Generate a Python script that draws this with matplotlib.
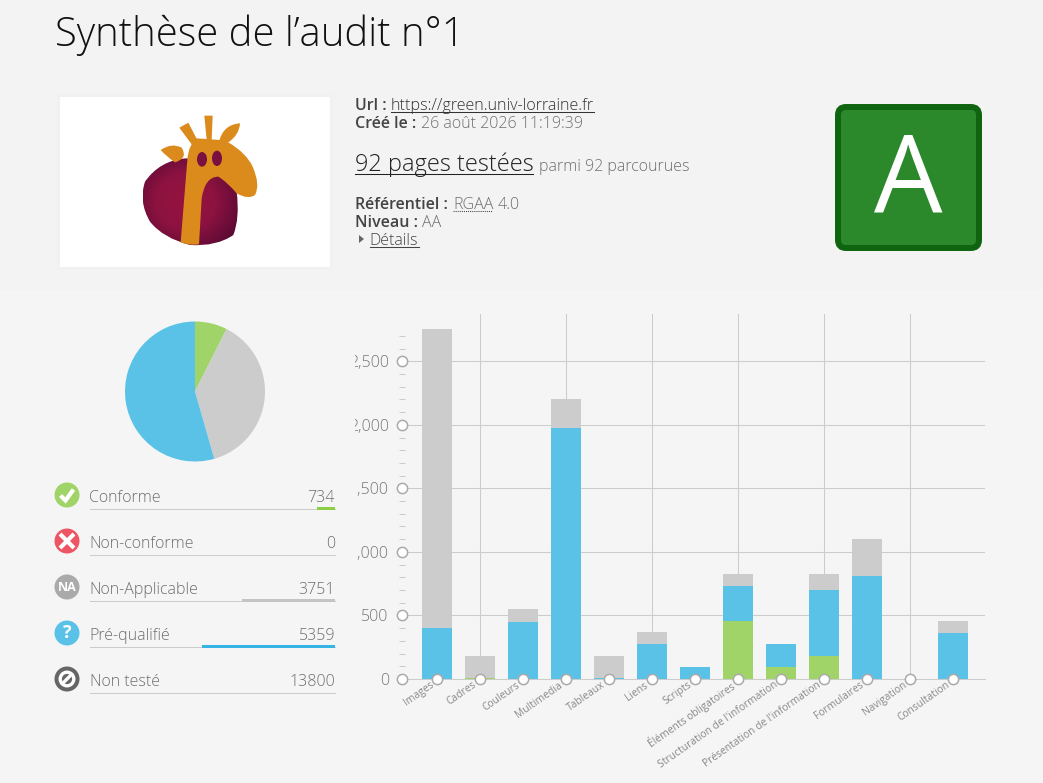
"""
Synthèse de l'audit n°1: accessibility audit summary, pie + stacked bars per theme
"""
import matplotlib
matplotlib.use("Agg")
import matplotlib.pyplot as plt
from matplotlib.patches import Circle, Ellipse, FancyBboxPatch, PathPatch, Polygon, Rectangle
from matplotlib.path import Path
from matplotlib.ticker import FuncFormatter
from matplotlib.transforms import Bbox
import numpy as np

plt.rcParams['font.family'] = ['Open Sans', 'DejaVu Sans']

# Status totals
status_labels = ["Conforme", "Non-conforme", "Non-Applicable", "Pré-qualifié", "Non testé"]
status_values = [734, 0, 3751, 5359, 13800]

# Bars
themes = ["Images", "Cadres", "Couleurs", "Multimedia", "Tableaux", "Liens", "Scripts",
          "Éléments obligatoires", "Structuration de l'information",
          "Présentation de l'information", "Formulaires", "Navigation", "Consultation"]
conforme = [0, 10, 0, 0, 0, 0, 0, 456, 95, 181, 0, 0, 0]
prequalifie = [400, 0, 452, 1978, 10, 275, 95, 276, 180, 519, 811, 0, 362]
non_applicable = [2356, 170, 98, 227, 170, 95, 0, 95, 0, 127, 291, 0, 94]
y_major = [0, 500, 1000, 1500, 2000, 2500]
y_minor = [100, 200, 300, 400, 600, 700, 800, 900, 1100, 1200, 1300, 1400,
           1600, 1700, 1800, 1900, 2100, 2200, 2300, 2400, 2600, 2700]

GREEN = '#a0d468'
BLUE = '#5bc2e7'
GRAY = '#cccccc'
GRID = '#cccccc'
TXT = '#6f6f6f'
DARK = '#222222'
LW = 0.75  # about one pixel

fig = plt.figure(figsize=(10.43, 7.83), dpi=100, facecolor='#f5f5f5')

# Page layer, in pixels
bg = fig.add_axes([0, 0, 1, 1])
bg.set_xlim(0, 1043)
bg.set_ylim(783, 0)
bg.axis('off')
bg.add_patch(Rectangle((0, 0), 1043, 290, fc='#f3f3f3', ec='none'))

bg.text(55, 46, "Synthèse de l’audit n°1", fontsize=28.8, color='#111111', fontweight='light')

# Logo
bg.add_patch(Rectangle((57, 94), 276, 176, fc='#f1f1f1', ec='none'))
bg.add_patch(Rectangle((60, 97), 270, 170, fc='white', ec='none'))


def z(x, y):
    # logo coordinates were read on a 3x crop
    return (50 + x / 3, 85 + y / 3)


def smooth(points):
    verts = [z(*p) for p in points]
    codes = [Path.MOVETO] + [Path.CURVE3] * (len(verts) - 1)
    return Path(verts, codes)


heart = smooth([(410, 220), (330, 225), (285, 290), (265, 350), (300, 410), (340, 460), (420, 480),
                (500, 485), (550, 450), (570, 400), (560, 320), (530, 260), (410, 220)])
heart_patch = PathPatch(heart, fc='none', ec='none')
bg.add_patch(heart_patch)
gx, gy = np.meshgrid(np.linspace(0, 1, 80), np.linspace(0, 1, 80))
gr = np.clip(np.hypot((gx - 0.45) / 0.62, (gy - 0.5) / 0.62), 0, 1)
cm = matplotlib.colors.LinearSegmentedColormap.from_list('heart', ['#95133f', '#8d1240', '#5c0a35'])
im = bg.imshow(gr, extent=(z(278, 0)[0], z(562, 0)[0], z(0, 482)[1], z(0, 215)[1]), cmap=cm,
               aspect='auto', zorder=1)
im.set_clip_path(heart_patch)
bg.set_xlim(0, 1043)
bg.set_ylim(783, 0)

ORANGE = '#db8a1c'
body_verts = [z(*p) for p in [(392, 472), (412, 225), (415, 180), (440, 160), (510, 165), (535, 172),
                              (590, 205), (608, 245), (632, 300), (615, 330), (595, 345), (560, 325),
                              (530, 290), (505, 275), (465, 275), (455, 340), (447, 478),
                              (420, 482), (392, 472)]]
body_codes = [Path.MOVETO, Path.LINETO, Path.CURVE3, Path.CURVE3, Path.LINETO, Path.LINETO,
              Path.CURVE3, Path.CURVE3, Path.CURVE3, Path.CURVE3, Path.CURVE3, Path.CURVE3,
              Path.CURVE3, Path.CURVE3, Path.CURVE3, Path.CURVE3, Path.LINETO,
              Path.CURVE3, Path.CURVE3]
bg.add_patch(PathPatch(Path(body_verts, body_codes), fc=ORANGE, ec='none', zorder=2))
ear_left = smooth([(332, 195), (365, 172), (395, 188), (415, 220), (375, 232), (350, 215), (332, 195)])
bg.add_patch(PathPatch(ear_left, fc=ORANGE, ec='none', zorder=2))
ear_right = smooth([(507, 170), (520, 118), (570, 115), (568, 150), (535, 172), (520, 172), (507, 170)])
bg.add_patch(PathPatch(ear_right, fc=ORANGE, ec='none', zorder=2))
for pts in ([(388, 128), (415, 113), (442, 165), (425, 178)], [(463, 92), (488, 92), (485, 165), (470, 165)]):
    bg.add_patch(Polygon([z(*p) for p in pts], fc=ORANGE, ec='none', zorder=2))
for ex, ey, eh in ((456, 223, 44), (501, 220, 46)):
    bg.add_patch(Ellipse(z(ex, ey), 10, eh / 3, fc='#7a1040', ec='none', zorder=3))


# Info block
def run(x, y, s, bold=False, size=11.5, color=TXT):
    bg.text(x, y, s, fontsize=size, color=color, fontweight='semibold' if bold else 'light')


run(355, 110, "Url :", True, color='#444444')
run(391, 110, "https://green.univ-lorraine.fr", size=11.65, color='#333333')
bg.plot([391, 594], [111.5, 111.5], color='#333333', lw=LW)
run(355, 128, "Créé le :", True, color='#444444')
run(421, 128, "26 août 2026 11:19:39")
run(355, 171, "92 pages testées", size=17, color=DARK)
bg.plot([355, 533], [173.5, 173.5], color=DARK, lw=LW)
run(539, 171, "parmi 92 parcourues")
run(355, 209, "Référentiel :", True, color='#444444')
run(453, 209, "RGAA")
bg.plot([453, 492], [211, 211], color='#444444', lw=LW, ls=(0, (1, 1)))
run(498, 209, "4.0")
run(355, 227, "Niveau :", True, color='#444444')
run(422, 227, "AA")
run(369.5, 245, "Détails", color='#444444')
bg.plot([370, 419], [246.5, 246.5], color='#444444', lw=LW)
bg.add_patch(Polygon([(359, 235), (359, 243), (364, 239)], fc='#666666', ec='none'))

# Grade badge
bg.add_patch(FancyBboxPatch((838, 107), 141, 141, boxstyle='round,pad=0,rounding_size=8',
                            fc='#2b882b', ec='#0f640f', lw=4.3))
bg.text(908.5, 213, "A", fontsize=78, color='white', ha='center', va='baseline')

# Status list
total = sum(status_values[:4])
icon_colors = ['#a0d468', '#ed5565', '#aaaaaa', '#5bc2e7', '#666666']
bar_colors = ['#8ccf45', None, '#c4c4c4', '#36b4e5', None]
for i, (lab, val) in enumerate(zip(status_labels, status_values)):
    yc = 495 + 46 * i
    bg.add_patch(Circle((67, yc), 12.5, fc=icon_colors[i], ec='none'))
    bg.text(89.5, yc + 7, lab, fontsize=11.5, color=TXT, fontweight='light')
    bg.text(335, yc + 7, str(val), fontsize=11.5, color=TXT, ha='right', fontweight='light')
    bg.plot([90, 335], [yc + 13.5, yc + 13.5], color='#cccccc', lw=LW)
    if bar_colors[i]:
        w = 245 * val / total
        bg.add_patch(Rectangle((335 - w, yc + 11.5), w, 3, fc=bar_colors[i], ec='none', zorder=3))

bg.plot([60.5, 65.5, 73.5], [495.5, 500.5, 489.5], color='white', lw=3, solid_capstyle='butt', solid_joinstyle='miter')
bg.plot([61.5, 72.5], [535.5, 546.5], color='white', lw=3)
bg.plot([61.5, 72.5], [546.5, 535.5], color='white', lw=3)
bg.text(67, 587.5, "NA", color='white', fontsize=9, fontweight='bold', ha='center', va='center')
bg.text(67, 633.5, "?", color='white', fontsize=13, fontweight='bold', ha='center', va='center')
bg.add_patch(Circle((67, 679), 6.8, fc='none', ec='white', lw=2.4))
bg.plot([62.5, 71.5], [683.5, 674.5], color='white', lw=2.4)

# Pie
pie_ax = fig.add_axes([125 / 1043, 1 - 461.5 / 783, 140 / 1043, 140 / 783])
pie_ax.pie([status_values[0], status_values[2], status_values[3]], colors=[GREEN, GRAY, BLUE],
           startangle=90, counterclock=False, radius=1.0)
pie_ax.set_xlim(-1, 1)
pie_ax.set_ylim(-1, 1)

# Stacked bars
ax = fig.add_axes([402 / 1043, 1 - 679 / 783, 583 / 1043, 365 / 783])
ax.patch.set_alpha(0)
x = np.arange(len(themes))
conf = np.array(conforme)
pre = np.array(prequalifie)
na = np.array(non_applicable)
ax.bar(x, conf, width=0.7, color=GREEN, zorder=3)
ax.bar(x, pre, width=0.7, bottom=conf, color=BLUE, zorder=3)
ax.bar(x, na, width=0.7, bottom=conf + pre, color=GRAY, zorder=3)
ax.set_xlim(-35 / 43, 548 / 43)
ax.set_ylim(0, 2872)

for sp in ['top', 'right', 'left']:
    ax.spines[sp].set_visible(False)
ax.spines['bottom'].set_color(GRID)
ax.spines['bottom'].set_linewidth(LW)

ax.set_yticks(y_major)
ax.set_yticks(y_minor, minor=True)
ax.yaxis.set_major_formatter(FuncFormatter(lambda v, _: f"{int(v):,}"))
ax.tick_params(axis='y', which='major', length=0, pad=9.5, labelsize=11.5, labelcolor='#777777')
ax.tick_params(axis='y', which='minor', length=4.3, direction='inout', color=GRID, width=LW)
for lab in ax.get_yticklabels():
    lab.set_fontweight('light')
    lab.set_clip_box(Bbox([[355, 0], [400, 783]]))
    lab.set_clip_on(True)

ax.grid(axis='y', color=GRID, lw=LW, zorder=1)
ax.set_xticks([])
for i in x[1::2]:
    ax.axvline(i, color=GRID, lw=LW, zorder=1)

dots = dict(marker='o', ms=7.4, mfc='white', mec='#aaaaaa', mew=1.1, ls='none', clip_on=False, zorder=5)
ax.plot(x, np.zeros(len(x)), **dots)
ax.plot(np.zeros(len(y_major)), y_major, transform=ax.get_yaxis_transform(), **dots)

for i, name in zip(x, themes):
    ax.annotate(name, xy=(i, 0), xytext=(-5.5, -0.5), textcoords='offset points', fontsize=7.4, color='#888888',
                rotation=35, ha='right', va='top', rotation_mode='anchor', annotation_clip=False)

fig.savefig('out.png', dpi=100, facecolor=fig.get_facecolor())
